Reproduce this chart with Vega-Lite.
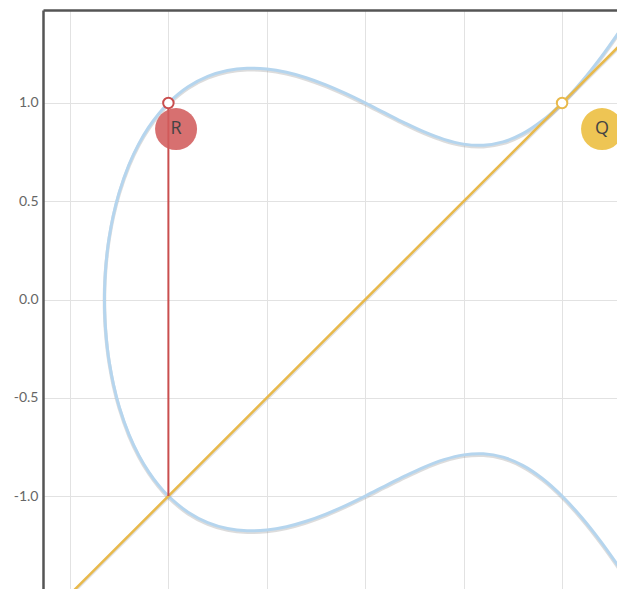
{
  "$schema": "https://vega.github.io/schema/vega-lite/v6.json",
  "autosize": "none",
  "padding": {"left": 43, "top": 10, "right": 0, "bottom": 0},
  "width": 574,
  "height": 579,
  "background": "white",
  "config": {"view": {"stroke": null}},
  "datasets": {
    "curve": [
      {"i": 0, "x": 1.3, "y": -1.3773}, {"i": 1, "x": 1.2, "y": -1.2361}, {"i": 2, "x": 1.1, "y": -1.1095},
      {"i": 3, "x": 1.0, "y": -1.0}, {"i": 4, "x": 0.9, "y": -0.9105}, {"i": 5, "x": 0.8, "y": -0.8438},
      {"i": 6, "x": 0.7, "y": -0.8019}, {"i": 7, "x": 0.6, "y": -0.7849}, {"i": 8, "x": 0.5, "y": -0.7906},
      {"i": 9, "x": 0.4, "y": -0.8149}, {"i": 10, "x": 0.3, "y": -0.8526}, {"i": 11, "x": 0.2, "y": -0.8989},
      {"i": 12, "x": 0.1, "y": -0.9492}, {"i": 13, "x": 0.0, "y": -1.0}, {"i": 14, "x": -0.1, "y": -1.0483},
      {"i": 15, "x": -0.2, "y": -1.0918}, {"i": 16, "x": -0.3, "y": -1.1283}, {"i": 17, "x": -0.4, "y": -1.1559},
      {"i": 18, "x": -0.5, "y": -1.1726}, {"i": 19, "x": -0.6, "y": -1.1764}, {"i": 20, "x": -0.7, "y": -1.1649},
      {"i": 21, "x": -0.8, "y": -1.1349}, {"i": 22, "x": -0.9, "y": -1.0821}, {"i": 23, "x": -1.0, "y": -1.0},
      {"i": 24, "x": -1.05, "y": -0.9447}, {"i": 25, "x": -1.1, "y": -0.8769}, {"i": 26, "x": -1.15, "y": -0.7932},
      {"i": 27, "x": -1.2, "y": -0.687}, {"i": 28, "x": -1.25, "y": -0.5449}, {"i": 29, "x": -1.28, "y": -0.4276},
      {"i": 30, "x": -1.3, "y": -0.3209}, {"i": 31, "x": -1.31, "y": -0.2488}, {"i": 32, "x": -1.32, "y": -0.1415},
      {"i": 33, "x": -1.324, "y": -0.0553}, {"i": 34, "x": -1.3247, "y": 0.0}, {"i": 35, "x": -1.324, "y": 0.0553},
      {"i": 36, "x": -1.32, "y": 0.1415}, {"i": 37, "x": -1.31, "y": 0.2488}, {"i": 38, "x": -1.3, "y": 0.3209},
      {"i": 39, "x": -1.28, "y": 0.4276}, {"i": 40, "x": -1.25, "y": 0.5449}, {"i": 41, "x": -1.2, "y": 0.687},
      {"i": 42, "x": -1.15, "y": 0.7932}, {"i": 43, "x": -1.1, "y": 0.8769}, {"i": 44, "x": -1.05, "y": 0.9447},
      {"i": 45, "x": -1.0, "y": 1.0}, {"i": 46, "x": -0.9, "y": 1.0821}, {"i": 47, "x": -0.8, "y": 1.1349},
      {"i": 48, "x": -0.7, "y": 1.1649}, {"i": 49, "x": -0.6, "y": 1.1764}, {"i": 50, "x": -0.5, "y": 1.1726},
      {"i": 51, "x": -0.4, "y": 1.1559}, {"i": 52, "x": -0.3, "y": 1.1283}, {"i": 53, "x": -0.2, "y": 1.0918},
      {"i": 54, "x": -0.1, "y": 1.0483}, {"i": 55, "x": 0.0, "y": 1.0}, {"i": 56, "x": 0.1, "y": 0.9492},
      {"i": 57, "x": 0.2, "y": 0.8989}, {"i": 58, "x": 0.3, "y": 0.8526}, {"i": 59, "x": 0.4, "y": 0.8149},
      {"i": 60, "x": 0.5, "y": 0.7906}, {"i": 61, "x": 0.6, "y": 0.7849}, {"i": 62, "x": 0.7, "y": 0.8019},
      {"i": 63, "x": 0.8, "y": 0.8438}, {"i": 64, "x": 0.9, "y": 0.9105}, {"i": 65, "x": 1.0, "y": 1.0},
      {"i": 66, "x": 1.1, "y": 1.1095}, {"i": 67, "x": 1.2, "y": 1.2361}, {"i": 68, "x": 1.3, "y": 1.3773}
    ],
    "tangent": [
      {"x": -1.637, "y": -1.637},
      {"x": 1.5, "y": 1.5}
    ],
    "chord": [
      {"x": -1.0, "y": -1.0, "y2": 1.0}
    ],
    "badges": [
      {"x": -0.961, "y": 0.867, "label": "R", "color": "R"},
      {"x": 1.203, "y": 0.867, "label": "Q", "color": "Q"}
    ],
    "dots": [
      {"x": -1.0, "y": 1.0, "color": "R"},
      {"x": 1.0, "y": 1.0, "color": "Q"}
    ]
  },
  "layer": [
    {
      "data": {"name": "curve"},
      "mark": {"type": "line", "clip": true, "interpolate": "catmull-rom", "stroke": "#9a9a9a", "strokeWidth": 3.5, "opacity": 0.35},
      "encoding": {
        "x": {
          "field": "x", "type": "quantitative",
          "scale": {"domain": [-1.637, 1.279], "nice": false, "zero": false},
          "axis": {
            "orient": "top", "title": null, "labels": false, "ticks": false,
            "values": [-1.5, -1, -0.5, 0, 0.5, 1],
            "domainColor": "#555555", "domainWidth": 2.5,
            "grid": true, "gridColor": "#e2e2e2", "gridWidth": 1
          }
        },
        "y": {
          "field": "y", "type": "quantitative",
          "scale": {"domain": [-1.473, 1.473], "nice": false, "zero": false},
          "axis": {
            "orient": "left", "title": null, "ticks": false,
            "values": [-1, -0.5, 0, 0.5, 1],
            "labelExpr": "replace(format(datum.value, '.1f'), '\u2212', '-')",
            "labelFont": "Lato", "labelFontSize": 14, "labelColor": "#666666", "labelPadding": 5,
            "domainColor": "#555555", "domainWidth": 2.5,
            "grid": true, "gridColor": "#e2e2e2", "gridWidth": 1
          }
        },
        "order": {"field": "i", "type": "quantitative"},
        "yOffset": {"value": 1.5}
      }
    },
    {
      "data": {"name": "curve"},
      "mark": {"type": "line", "clip": true, "interpolate": "catmull-rom", "stroke": "#b5d5ee", "strokeWidth": 3},
      "encoding": {
        "x": {"field": "x", "type": "quantitative"},
        "y": {"field": "y", "type": "quantitative"},
        "order": {"field": "i", "type": "quantitative"}
      }
    },
    {
      "data": {"name": "tangent"},
      "mark": {"type": "line", "clip": true, "stroke": "#9a9a9a", "strokeWidth": 3, "opacity": 0.3},
      "encoding": {
        "x": {"field": "x", "type": "quantitative"},
        "y": {"field": "y", "type": "quantitative"},
        "yOffset": {"value": 1.5}
      }
    },
    {
      "data": {"name": "tangent"},
      "mark": {"type": "line", "clip": true, "stroke": "#e8b94b", "strokeWidth": 2.5},
      "encoding": {
        "x": {"field": "x", "type": "quantitative"},
        "y": {"field": "y", "type": "quantitative"}
      }
    },
    {
      "data": {"name": "chord"},
      "mark": {"type": "rule", "clip": true, "stroke": "#c94e4e", "strokeWidth": 2},
      "encoding": {
        "x": {"field": "x", "type": "quantitative"},
        "y": {"field": "y", "type": "quantitative"},
        "y2": {"field": "y2"}
      }
    },
    {
      "data": {"name": "badges"},
      "mark": {"type": "circle", "clip": true, "size": 1764, "opacity": 0.88},
      "encoding": {
        "x": {"field": "x", "type": "quantitative"},
        "y": {"field": "y", "type": "quantitative"},
        "color": {
          "field": "color", "type": "nominal", "legend": null,
          "scale": {"domain": ["R", "Q"], "range": ["#d15c5c", "#ecbd3c"]}
        }
      }
    },
    {
      "data": {"name": "badges"},
      "mark": {"type": "text", "clip": true, "font": "Open Sans", "fontSize": 18, "fill": "#444444", "align": "center", "baseline": "middle"},
      "encoding": {
        "x": {"field": "x", "type": "quantitative"},
        "y": {"field": "y", "type": "quantitative"},
        "text": {"field": "label"}
      }
    },
    {
      "data": {"name": "dots"},
      "mark": {"type": "point", "shape": "circle", "clip": true, "size": 110, "filled": false, "fill": "white", "fillOpacity": 1, "strokeWidth": 2, "opacity": 1},
      "encoding": {
        "x": {"field": "x", "type": "quantitative"},
        "y": {"field": "y", "type": "quantitative"},
        "stroke": {
          "field": "color", "type": "nominal", "legend": null,
          "scale": {"domain": ["R", "Q"], "range": ["#c94e4e", "#e8b94b"]}
        }
      }
    }
  ]
}
